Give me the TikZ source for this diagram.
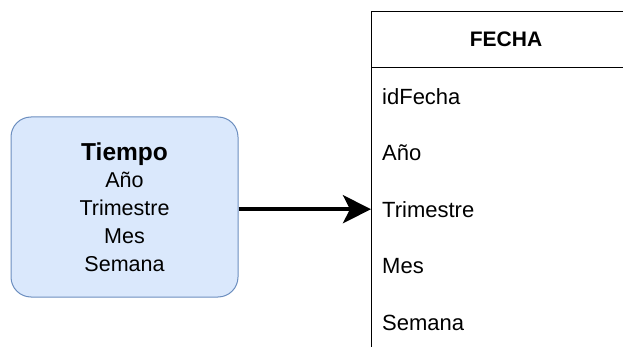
\documentclass[tikz,border=0pt]{standalone}
\usepackage{fontspec}
\setmainfont{Liberation Sans}
\usetikzlibrary{arrows.meta}
\begin{document}
\begin{tikzpicture}[x=1pt,y=-1pt,
  row/.style={minimum width=269pt, minimum height=56pt,
    inner xsep=11pt, anchor=north west, text width=247pt, align=left, font=\fontsize{22}{24}\selectfont},
  header/.style={row, draw=black, line width=1pt, align=center, font=\bfseries\fontsize{21}{24}\selectfont},
  concept/.style={line width=1pt, rounded corners=20pt,
    minimum width=227pt, minimum height=180pt, align=center,
    font=\fontsize{21.5}{27.8}\selectfont},
  link/.style={line width=4pt, -{Stealth[length=28pt,width=28pt,inset=7pt]}}]
  \definecolor{conceptfill}{HTML}{DAE8FC}
  \definecolor{conceptline}{HTML}{6C8EBF}
  \useasboundingbox (0,0) rectangle (623,347);
  \clip (0,0) rectangle (623,347);

  % dimension box
  \node[concept, fill=conceptfill, draw=conceptline] (tiempo) at (124.5,207)
    {{\bfseries\fontsize{24.5}{27.8}\selectfont Tiempo}\\Año\\Trimestre\\Mes\\Semana};

  % FECHA table: header cell, then the body frame and its rows
  \node[header] (fecha) at (371,11) {FECHA};
  \draw[line width=1pt] (fecha.south west) -- (371,360);
  \node[row] (id) at (371,68) {idFecha};
  \node[row] (anio) at (371,125) {Año};
  \node[row] (trim) at (371,181) {Trimestre};
  \node[row] (mes) at (371,238) {Mes};
  \node[row] (sem) at (371,295) {Semana};

  \draw[link] (tiempo.east |- trim.west) -- (trim.west);
\end{tikzpicture}
\end{document}
